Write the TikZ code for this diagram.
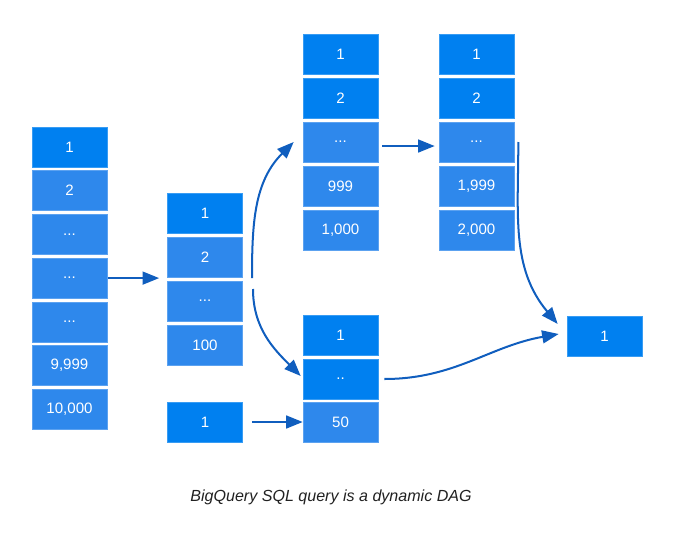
\documentclass[tikz,border=0pt]{standalone}
\usepackage{fontspec}
\setmainfont{Liberation Sans}
\usetikzlibrary{arrows.meta}
\definecolor{cellDark}{RGB}{0,128,240}
\definecolor{cellLight}{RGB}{46,136,236}
\definecolor{flowBlue}{RGB}{16,94,190}
\definecolor{captionGray}{RGB}{33,33,33}
\tikzset{
  cell/.style={shape=rectangle, draw=#1!78!white, line width=0.6pt, fill=#1, text=white, inner sep=0, minimum width=2.625cm, minimum height=1.4cm, font=\fontsize{15}{18}\selectfont},
  dkcell/.style={cell=cellDark},
  ltcell/.style={cell=cellLight},
  flow/.style={-{Triangle[length=0.58cm, width=0.45cm]}, line width=2pt, draw=flowBlue},
}
\begin{document}
\begin{tikzpicture}[x=0.035cm, y=-0.035cm]
        \useasboundingbox (0, 0) rectangle (699, 537);
        % Paths, nodes and wires:
        \node[dkcell] (a1) at (69.5, 147){1};
        \node[ltcell] (a2) at (69.5, 190.7){2};
        \node[ltcell] (a3) at (69.5, 234.4){...};
        \node[ltcell] (a4) at (69.5, 278.1){...};
        \node[ltcell] (a5) at (69.5, 321.8){...};
        \node[ltcell] (a6) at (69.5, 365.5){9,999};
        \node[ltcell] (a7) at (69.5, 409.2){10,000};
        \node[dkcell] (b1) at (205, 213){1};
        \node[ltcell] (b2) at (205, 257){2};
        \node[ltcell] (b3) at (205, 301){...};
        \node[ltcell] (b4) at (205, 345){100};
        \node[dkcell] (bx) at (205, 422){1};
        \node[dkcell] (c1) at (340.5, 54){1};
        \node[dkcell] (c2) at (340.5, 98){2};
        \node[ltcell] (c3) at (340.5, 142){...};
        \node[ltcell] (c4) at (340.5, 186){999};
        \node[ltcell] (c5) at (340.5, 230){1,000};
        \node[dkcell] (d1) at (340.5, 335){1};
        \node[dkcell] (d2) at (340.5, 379){..};
        \node[ltcell] (d3) at (340.5, 422){50};
        \node[dkcell] (e1) at (476.5, 54){1};
        \node[dkcell] (e2) at (476.5, 98){2};
        \node[ltcell] (e3) at (476.5, 142){...};
        \node[ltcell] (e4) at (476.5, 186){1,999};
        \node[ltcell] (e5) at (476.5, 230){2,000};
        \node[dkcell] (res) at (604.5, 336){1};
        \coordinate (upfrom) at (252, 278);
        \coordinate (dnfrom) at (253, 289);
        \draw[flow, shorten <=1pt, shorten >=8pt] (a4.east) -- (a4.east -| b3.west);
        \draw[flow] (upfrom) to[out=90, in=225] ([xshift=-9pt]c3.west);
        \draw[flow] (dnfrom) to[out=-90, in=135] ([xshift=-2pt, yshift=3pt]d2.west);
        \draw[flow, shorten <=4pt, shorten >=4pt] ([yshift=-4pt]c3.east) -- ([yshift=-4pt]e3.west);
        \draw[flow] ([xshift=4pt]e3.east) to[out=-90, in=130] ([xshift=-9pt, yshift=12pt]res.west);
        \draw[flow] ([xshift=6pt]d2.east) to[out=0, in=190] ([xshift=-8pt, yshift=2pt]res.west);
        \draw[flow, shorten <=9pt] (bx.east) -- (d3.west);
        \node[text=captionGray, font=\fontsize{16}{19}\selectfont\itshape] (caption) at (331, 497){BigQuery SQL query is a dynamic DAG};
      \end{tikzpicture}
\end{document}
